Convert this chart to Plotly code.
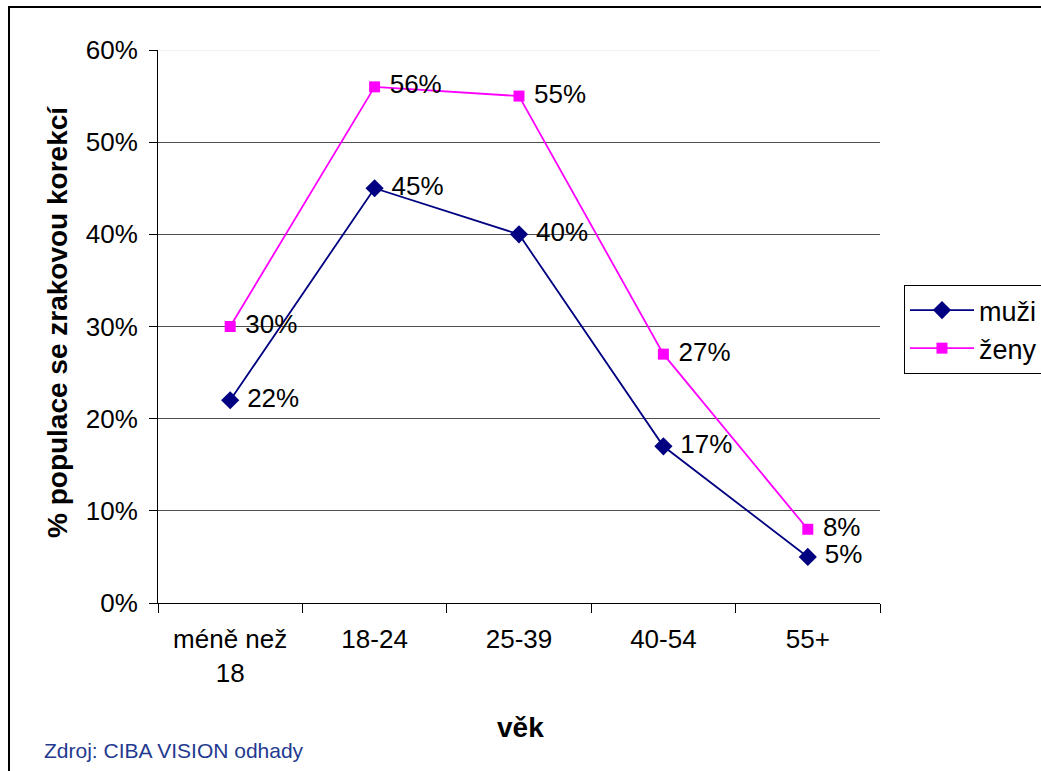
import plotly.graph_objects as go

categories = ["méně než<br>18", "18-24", "25-39", "40-54", "55+"]
muzi = [0.22, 0.45, 0.40, 0.17, 0.05]
zeny = [0.30, 0.56, 0.55, 0.27, 0.08]
y_ticks = [0, 0.1, 0.2, 0.3, 0.4, 0.5, 0.6]
y_tick_labels = ["0%", "10%", "20%", "30%", "40%", "50%", "60%"]

FONT = "Arial, Liberation Sans, sans-serif"

fig = go.Figure()
fig.add_trace(go.Scatter(
    x=categories, y=muzi, name="muži", mode="lines+markers+text",
    line=dict(color="#000080", width=1.8),
    marker=dict(symbol="diamond", size=14, color="#000080"),
    text=[f" {round(v*100)}%" for v in muzi], textposition="middle right",
    textfont=dict(size=26, color="black", family=FONT),
    cliponaxis=False,
))
fig.add_trace(go.Scatter(
    x=categories, y=zeny, name="ženy", mode="lines+markers+text",
    line=dict(color="#FF00FF", width=1.8),
    marker=dict(symbol="square", size=11, color="#FF00FF"),
    text=[f" {round(v*100)}%" for v in zeny], textposition="middle right",
    textfont=dict(size=26, color="black", family=FONT),
    cliponaxis=False,
))

fig.update_layout(
    width=1041, height=771,
    margin=dict(l=158, r=161, t=50, b=168, autoexpand=False),
    paper_bgcolor="white", plot_bgcolor="white",
    font=dict(family=FONT, size=26, color="black"),
    showlegend=True,
    legend=dict(
        x=(904 - 158) / 722, y=(603 - 285) / 553, xanchor="left", yanchor="top",
        bordercolor="black", borderwidth=1, bgcolor="white",
        font=dict(size=27, family=FONT), tracegroupgap=0, itemwidth=64,
    ),
    xaxis=dict(
        type="category", range=[-0.5, 4.5],
        showline=True, linecolor="black", linewidth=1,
        ticks="outside", tickson="boundaries", ticklen=9, tickcolor="black",
        showgrid=False, ticklabelstandoff=13,
        tickfont=dict(size=26, family=FONT),
    ),
    yaxis=dict(
        range=[0, 0.6], tickvals=y_ticks, ticktext=y_tick_labels,
        showline=True, linecolor="black", linewidth=1,
        ticks="outside", ticklen=8, tickcolor="black",
        showgrid=True, gridcolor="#505050", gridwidth=1,
        zeroline=False, ticklabelstandoff=6,
        tickfont=dict(size=26, family=FONT),
    ),
    shapes=[
        dict(type="line", xref="paper", yref="y", x0=0.002, x1=1, y0=0.6, y1=0.6,
             line=dict(color="#e6e6e6", width=1.2), layer="above"),
        dict(type="rect", xref="paper", yref="paper",
             x0=(9 - 158) / 722, x1=2.0, y0=-1.0, y1=(603 - 7) / 553,
             line=dict(color="black", width=2), layer="below"),
    ],
    annotations=[
        dict(text="<b>% populace se zrakovou korekcí</b>", textangle=-90,
             xref="paper", yref="paper", x=(57 - 158) / 722, y=(603 - 322) / 553,
             xanchor="center", yanchor="middle",
             showarrow=False, font=dict(size=28, family=FONT, color="black")),
        dict(text="<b>věk</b>", xref="paper", yref="paper",
             x=(520 - 158) / 722, y=(603 - 727) / 553,
             xanchor="center", yanchor="middle",
             showarrow=False, font=dict(size=28, family=FONT, color="black")),
        dict(text="Zdroj: CIBA VISION odhady", xref="paper", yref="paper",
             x=(42 - 158) / 722, y=(603 - 750) / 553, xanchor="left", yanchor="middle",
             showarrow=False, font=dict(size=21, family=FONT, color="#1F3A8F")),
    ],
)

fig.write_html("out.html", config={"displayModeBar": False},
               post_script="document.body.style.margin='0';document.body.style.overflow='hidden';")
